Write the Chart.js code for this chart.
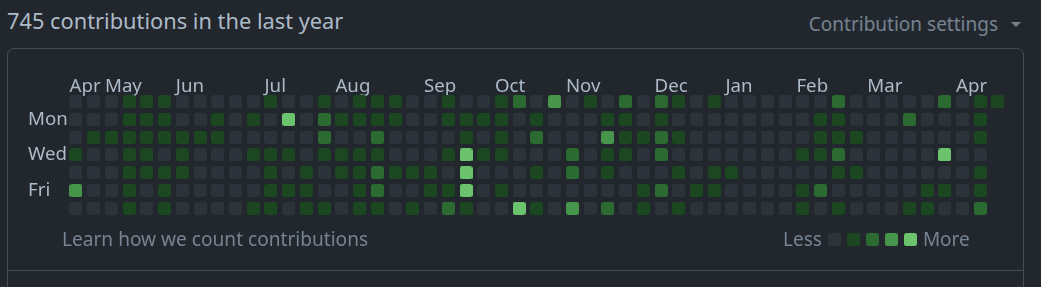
<!DOCTYPE html>
<html>
<head>
<meta charset="utf-8">
<script src="https://cdn.jsdelivr.net/npm/chart.js@4.4.1/dist/chart.umd.min.js"></script>
<style>
  body { margin: 0; width: 1041px; height: 287px; overflow: hidden; background: #22272e; font-family: "Noto Sans", sans-serif; position: relative }
  #myChart { position: absolute; left: 0; top: 0 }
  .title { position: absolute; left: 7px; top: 6px; font-size: 21.8px; line-height: 30px; color: #adbac7 }
  .settings { position: absolute; right: 43px; top: 11px; font-size: 19px; line-height: 27px; color: #768390 }
  .caret { position: absolute; left: 1011px; top: 22px; width: 0; height: 0; border-left: 5px solid transparent; border-right: 5px solid transparent; border-top: 5px solid #768390 }
  .box { position: absolute; left: 7px; top: 48px; width: 1015px; height: 280px; border: 1px solid #444c56; border-radius: 7px }
  .sep { position: absolute; left: 8px; top: 270px; width: 1015px; border-top: 1px solid #444c56 }
  .learn { position: absolute; left: 62px; top: 226px; font-size: 19.1px; line-height: 27px; color: #768390 }
  .legend { position: absolute; left: 783px; top: 226px; font-size: 19px; line-height: 27px; color: #768390; display: flex; align-items: center }
  .legend span.sq { display: inline-block; width: 13px; height: 13px; border-radius: 2.5px; margin-right: 6px }
</style>
</head>
<body>
<div class="title">745 contributions in the last year</div>
<div class="settings">Contribution settings</div>
<div class="caret"></div>
<div class="box"></div>
<div class="sep"></div>
<canvas id="myChart" width="1041" height="287"></canvas>
<div class="learn">Learn how we count contributions</div>
<div class="legend" id="js-legend"></div>
<script>
// Contribution levels per weekday, one value per week (0 = none ... 4 = most)
const sun = [0,0,0,1,1,1,0,0,0,0,0,1,0, 0,1,0,1,1,1,0,0,1,0,0,1,2, 0,3,0,1,0,2,0,2,1,0,1,0,0, 0,0,0,0,2,0,0,0,0,0,2,0,1,1]
const mon = [0,0,0,1,1,1,0,0,1,0,1,0,4, 0,2,1,1,1,1,0,0,1,1,1,1,0, 1,0,0,0,1,1,0,1,0,0,0,0,0, 0,0,0,1,1,0,0,0,2,0,0,0,1]
const tue = [0,1,1,1,1,1,1,1,1,0,0,0,0, 0,2,0,0,2,0,0,0,0,1,0,1,0, 2,0,0,0,3,1,1,2,1,0,0,0,0, 0,0,0,1,1,1,0,0,0,0,0,0,1]
const wed = [1,0,0,1,1,0,1,0,0,0,1,1,1, 0,1,1,1,1,0,0,0,1,4,1,1,0, 0,0,2,0,1,1,0,2,0,0,0,0,0, 0,0,1,1,2,0,0,0,0,0,4,0,0]
const thu = [0,0,0,1,1,1,1,0,0,0,0,1,0, 1,0,1,1,2,1,1,1,0,4,0,0,0, 1,0,2,0,1,0,0,0,1,0,1,1,0, 0,0,0,0,1,1,0,0,0,0,0,0,1]
const fri = [3,0,0,1,0,1,0,0,0,0,0,1,1, 1,0,0,1,2,0,0,1,1,4,0,1,0, 0,0,0,0,0,0,1,2,0,1,1,0,0, 0,0,1,2,0,0,0,0,0,1,1,0,1]
const sat = [0,0,0,1,0,1,0,0,0,0,1,1,0, 1,1,0,1,1,0,1,0,2,1,0,0,4, 1,0,3,0,2,0,1,0,1,0,0,0,0, 0,0,1,0,1,0,0,0,1,1,0,0,2]

// Month labels and the week column where each one starts
const months = ['Apr', 'May', 'Jun', 'Jul', 'Aug', 'Sep', 'Oct', 'Nov', 'Dec', 'Jan', 'Feb', 'Mar', 'Apr']
const monthWeeks = [0, 2, 6, 11, 15, 20, 24, 28, 33, 37, 41, 45, 50]

// Weekday labels shown on the left
const dayLabels = ['Mon', 'Wed', 'Fri']
const dayRows = [1, 3, 5]

const levelColors = ['#2d333b', '#1b4721', '#2b6a30', '#46954a', '#6bc46d']

// Rounded square used as point style
const makeTile = color => {
  const c = document.createElement('canvas')
  c.width = 13
  c.height = 13
  const ctx = c.getContext('2d')
  ctx.fillStyle = color
  ctx.beginPath()
  ctx.roundRect(0, 0, 13, 13, 2.5)
  ctx.fill()
  return c
}

const loadLegend = _ => {
  let html = '<span style="margin-right:6px">Less</span>'
  levelColors.forEach(c => { html += `<span class="sq" style="background:${c}"></span>` })
  html += '<span>More</span>'
  document.getElementById('js-legend').innerHTML = html
}

const loadGraphic = _ => {
  const rows = [sun, mon, tue, wed, thu, fri, sat]
  const datasets = levelColors.map((color, lv) => ({
    data: rows.flatMap((row, r) => row.map((v, w) => v === lv ? {x: w, y: r} : null).filter(p => p)),
    pointStyle: makeTile(color),
    pointRadius: 6,
    pointHoverRadius: 6,
    clip: false,
  }))

  const config = {
    type: 'scatter',
    data: {datasets: datasets},
    options: {
      responsive: false,
      animation: false,
      events: [],
      layout: {padding: {left: 28, top: 0, right: 34.2, bottom: 69.9}},
      plugins: {legend: {display: false}, tooltip: {enabled: false}},
      scales: {
        x: {
          type: 'linear',
          position: 'top',
          min: -0.5,
          max: 52.5,
          grid: {display: false, drawTicks: false},
          border: {display: false},
          afterFit: s => { s.height = 96 },
          afterBuildTicks: s => { s.ticks = monthWeeks.map(w => ({value: w})) },
          ticks: {
            autoSkip: false,
            maxRotation: 0,
            minRotation: 0,
            align: 'start',
            labelOffset: -6.5,
            padding: 0,
            color: '#adbac7',
            font: {family: 'Noto Sans', size: 18.7, lineHeight: 1},
            callback: (v, i) => months[i],
          },
        },
        y: {
          type: 'linear',
          reverse: true,
          min: -0.32,
          max: 6.5,
          grid: {display: false, drawTicks: false},
          border: {display: false},
          afterFit: s => { s.width = 39.1 },
          afterBuildTicks: s => { s.ticks = dayRows.map(r => ({value: r})) },
          ticks: {
            crossAlign: 'far',
            padding: 0,
            color: '#adbac7',
            font: {family: 'Noto Sans', size: 18.7},
            callback: (v, i) => dayLabels[i],
          },
        },
      },
    },
  }

  const ctx = document.getElementById('myChart')
  const myChart = new Chart(ctx, config)
}

loadLegend()
loadGraphic()
</script>
</body>
</html>
